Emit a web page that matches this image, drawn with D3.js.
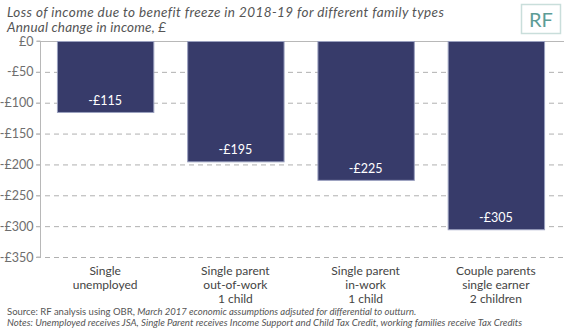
<!DOCTYPE html>
<html><head><meta charset="utf-8">
<script src="https://cdn.jsdelivr.net/npm/d3@7"></script>
<style>
body{margin:0;background:#fff;}
text{font-family:Lato,"Open Sans",sans-serif;}
</style></head>
<body>
<svg id="c" width="564" height="331"></svg>
<script>
const categories = [
  ["Single","unemployed"],
  ["Single parent","out-of-work","1 child"],
  ["Single parent","in-work","1 child"],
  ["Couple parents","single earner","2 children"]
];
const values = [-115, -195, -225, -305];
const valueLabels = ["-£115","-£195","-£225","-£305"];
const yTicks = [0,-50,-100,-150,-200,-250,-300,-350];
const yTickLabels = ["£0","-£50","-£100","-£150","-£200","-£250","-£300","-£350"];
const title = "Loss of income due to benefit freeze in 2018-19 for different family types";
const subtitle = "Annual change in income, £";
const source = "Source: RF analysis using OBR, ";
const sourceItalic = "March 2017 economic assumptions adjsuted for differential to outturn.";
const notes = "Notes: Unemployed receives JSA, Single Parent receives Income Support and Child Tax Credit, working families receive Tax Credits";

const svg = d3.select("#c");
const pL = 40, pR = 561, pT = 41, pB = 257;
const x = d3.scaleBand().domain(d3.range(values.length)).range([pL, pR]).paddingInner(0.26).paddingOuter(0.13);
const y = d3.scaleLinear().domain([0,-350]).range([pT,pB]);

// gridlines
svg.append("g").selectAll("line").data(yTicks.filter(d=>d!==0)).join("line")
  .attr("x1", pL-4).attr("x2", 564).attr("y1", d=>y(d)+0.5).attr("y2", d=>y(d)+0.5)
  .attr("stroke","#b0b0b0").attr("stroke-width",1).attr("stroke-dasharray","5,4");
// zero line
svg.append("line").attr("x1",pL).attr("x2",564).attr("y1",y(0)+0.5).attr("y2",y(0)+0.5)
  .attr("stroke","#b8b8b8");
// y axis
const yAxis = d3.axisLeft(y).tickValues(yTicks).tickFormat((d,i)=>yTickLabels[i]).tickSize(4).tickPadding(3);
const ga = svg.append("g").attr("transform",`translate(${pL+0.5},0)`).call(yAxis);
ga.select(".domain").attr("stroke","#b8b8b8").attr("d",`M-4,${y(0)}H0V${y(-350)}H-4`);
ga.selectAll(".tick line").attr("stroke","#b8b8b8");
ga.selectAll(".tick text").attr("fill","#6e6e6e").style("font-size","12.5px").style("font-family","Lato, sans-serif");

// bars
svg.append("g").selectAll("rect").data(values).join("rect")
  .attr("x",(d,i)=>x(i)+0.5).attr("width",x.bandwidth())
  .attr("y",y(0)+0.5).attr("height",d=>y(d)-y(0))
  .attr("fill","#373b6a").attr("stroke","#9aa0bf").attr("stroke-width",1);

// value labels
svg.append("g").selectAll("text").data(values).join("text")
  .attr("x",(d,i)=>x(i)+x.bandwidth()/2).attr("y",d=>y(d)-7)
  .attr("text-anchor","middle").attr("fill","#fff").style("font-size","12.5px")
  .text((d,i)=>valueLabels[i]);

// category labels
const cg = svg.append("g").selectAll("text").data(categories).join("text")
  .attr("x",(d,i)=>x(i)+x.bandwidth()/2).attr("y",275)
  .attr("text-anchor","middle").attr("fill","#444").style("font-size","12px");
cg.selectAll("tspan").data(d=>d).join("tspan")
  .attr("x",function(){return d3.select(this.parentNode).attr("x");})
  .attr("dy",(d,i)=>i===0?0:14).text(d=>d);

// title
svg.append("text").attr("x",7).attr("y",17).attr("fill","#555").style("font-size","13.5px").style("letter-spacing","0.4px").style("font-style","italic").text(title);
svg.append("text").attr("x",7).attr("y",32).attr("fill","#555").style("font-size","13.5px").style("letter-spacing","0.2px").style("font-style","italic").text(subtitle);

// logo
svg.append("rect").attr("x",521.5).attr("y",4.5).attr("width",39).attr("height",29).attr("fill","#fff").attr("stroke","#c9dedb").attr("stroke-width",1.5);
svg.append("text").attr("x",541).attr("y",27).attr("text-anchor","middle").attr("fill","#5d9c96").style("font-size","20px").text("RF");

// source & notes
const st = svg.append("text").attr("x",7).attr("y",315).attr("fill","#555").style("font-size","9.5px");
st.append("tspan").text(source);
st.append("tspan").style("font-style","italic").text(sourceItalic);
svg.append("text").attr("x",7).attr("y",326).attr("fill","#555").style("font-size","9.7px").style("font-style","italic").text(notes);
</script>
</body></html>
